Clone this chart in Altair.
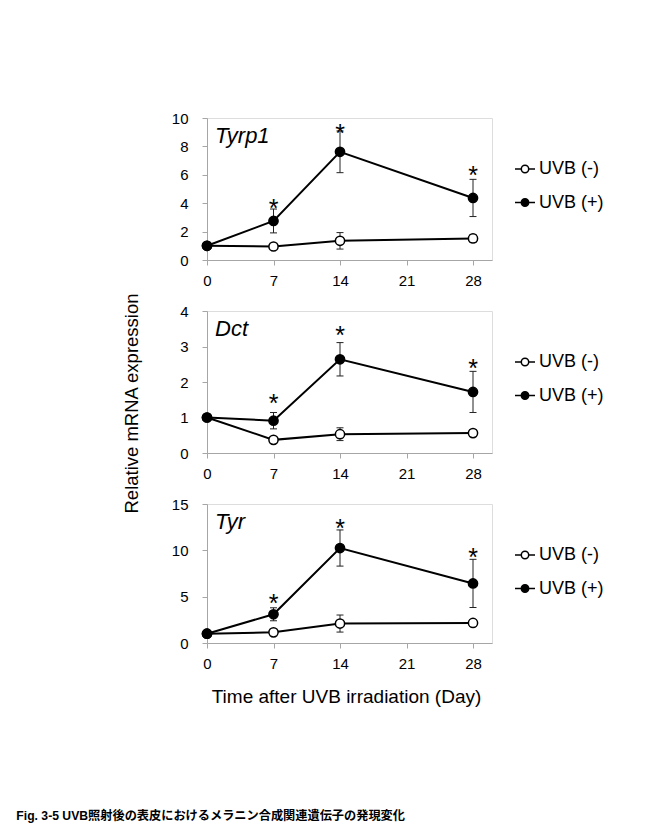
import altair as alt
import pandas as pd

# Sampling days after UVB irradiation
days = [0, 7, 14, 28]
groups = ["UVB (-)", "UVB (+)"]
star_days = [7, 14, 28]

# Tyrp1 relative expression (mean and SD)
tyrp1_minus = [1.0, 0.95, 1.35, 1.52]
tyrp1_minus_sd = [0.0, 0.08, 0.58, 0.28]
tyrp1_plus = [1.0, 2.75, 7.62, 4.37]
tyrp1_plus_sd = [0.0, 0.84, 1.47, 1.31]
tyrp1_star = [4.1, 9.4, 6.4]

# Dct relative expression (mean and SD)
dct_minus = [1.0, 0.37, 0.53, 0.56]
dct_minus_sd = [0.0, 0.04, 0.18, 0.04]
dct_plus = [1.0, 0.91, 2.64, 1.72]
dct_plus_sd = [0.0, 0.23, 0.47, 0.58]
dct_star = [1.57, 3.5, 2.55]

# Tyr relative expression (mean and SD)
tyr_minus = [1.0, 1.15, 2.1, 2.16]
tyr_minus_sd = [0.0, 0.15, 0.92, 0.3]
tyr_plus = [1.0, 3.1, 10.25, 6.43]
tyr_plus_sd = [0.0, 0.7, 1.95, 2.6]
tyr_star = [5.0, 13.1, 9.9]

x_ticks = [0, 7, 14, 21, 28]
caption = "Fig. 3-5 UVB照射後の表皮におけるメラニン合成関連遺伝子の発現変化"

FONT = "Liberation Sans"
GREY = "#a6a6a6"
PW = 285  # plot width

# Legend glyph: short line with a circle in the middle
LEGEND_GLYPH = ("M-1,0H-0.37M0.37,0H1"
                "M0.37,0A0.37,0.37,0,1,1,-0.37,0A0.37,0.37,0,1,1,0.37,0Z")

AXIS_STYLE = dict(labelFont=FONT, labelFontSize=15, labelColor="black",
                  domainColor=GREY, tickColor=GREY, tickSize=5, grid=False,
                  labelFlush=False, labelOverlap=False)


def panel(gene, minus, minus_sd, plus, plus_sd, stars, ymax, ystep, height,
          y_title=False, x_title=False, with_caption=False):
    rows = []
    for grp, means, sds in [(groups[0], minus, minus_sd), (groups[1], plus, plus_sd)]:
        for d, m, s in zip(days, means, sds):
            rows.append({"day": d, "val": m, "lo": m - s, "hi": m + s, "sd": s, "group": grp})
    df = pd.DataFrame(rows)
    err = df[df["sd"] > 0]
    caps = pd.concat([
        err[["day", "lo", "group"]].rename(columns={"lo": "cap"}),
        err[["day", "hi", "group"]].rename(columns={"hi": "cap"}),
    ])
    star_df = pd.DataFrame({"day": star_days, "star": stars})

    if x_title:
        x_axis = alt.Axis(values=x_ticks, title="Time after UVB irradiation (Day)",
                          labelPadding=8.5, titleFontSize=19,
                          titleFont=FONT, titleFontWeight="normal", titleColor="black",
                          titleBaseline="alphabetic", titleY=59, titleX=139, **AXIS_STYLE)
    else:
        x_axis = alt.Axis(values=x_ticks, title=None, labelPadding=8.5, **AXIS_STYLE)
    xs = alt.Scale(domain=[0, 30], nice=False)
    ys = alt.Scale(domain=[0, ymax], nice=False, zero=True)
    y_vals = list(range(0, ymax + 1, ystep))
    if y_title:
        y_axis = alt.Axis(values=y_vals, title="Relative mRNA expression",
                          labelPadding=14, titleFontSize=18.5,
                          titleFont=FONT, titleFontWeight="normal", titleColor="black",
                          titleAngle=-90, titleAlign="center", titleBaseline="middle",
                          titleX=-76, titleY=92, **AXIS_STYLE)
    else:
        y_axis = alt.Axis(values=y_vals, title=None, labelPadding=14, **AXIS_STYLE)

    X = alt.X("day:Q", scale=xs, axis=x_axis)

    lines = alt.Chart(df).mark_line(color="black", strokeWidth=2).encode(
        x=X, y=alt.Y("val:Q", scale=ys, axis=y_axis), detail="group:N")

    bars = alt.Chart(err).mark_rule(color="#222222", strokeWidth=1).encode(
        x=X, y=alt.Y("lo:Q", scale=ys, axis=y_axis), y2="hi:Q")

    cap_ticks = alt.Chart(caps).mark_tick(
        orient="horizontal", color="#222222", size=7, thickness=1, opacity=1).encode(
        x=X, y=alt.Y("cap:Q", scale=ys, axis=y_axis))

    points = alt.Chart(df).mark_point(
        shape="circle", filled=True, size=85, stroke="black", strokeWidth=1.5,
        opacity=1, fillOpacity=1, strokeOpacity=1).encode(
        x=X, y=alt.Y("val:Q", scale=ys, axis=y_axis),
        fill=alt.Fill("group:N", scale=alt.Scale(domain=groups, range=["white", "black"]),
                      legend=alt.Legend(
                          title=None, orient="none", legendX=307, legendY=40,
                          symbolType=LEGEND_GLYPH, symbolSize=400,
                          symbolStrokeColor="black", symbolStrokeWidth=1.5,
                          labelFont=FONT, labelFontSize=18, labelColor="black",
                          labelOffset=3, rowPadding=13.5)))

    star_marks = alt.Chart(star_df).mark_text(
        text="*", font=FONT, fontSize=25, color="black", baseline="middle", dy=7).encode(
        x=X, y=alt.Y("star:Q", scale=ys, axis=y_axis))

    label = alt.Chart(pd.DataFrame({"gene": [gene]})).mark_text(
        font=FONT, fontStyle="italic", fontSize=22, color="black",
        align="left", baseline="alphabetic").encode(
        text="gene:N", x=alt.value(8), y=alt.value(25))

    layers = [lines, bars, cap_ticks, points, star_marks, label]
    if with_caption:
        cap_text = alt.Chart(pd.DataFrame({"cap": [caption]})).mark_text(
            font="Liberation Sans, Noto Sans CJK JP", fontWeight="bold", fontSize=12.2,
            color="black", align="left", baseline="alphabetic").encode(
            text="cap:N", x=alt.value(15 - 205.7), y=alt.value(821 - 505))
        layers.append(cap_text)

    return alt.layer(*layers).properties(width=PW, height=height)


p1 = panel("Tyrp1", tyrp1_minus, tyrp1_minus_sd, tyrp1_plus, tyrp1_plus_sd,
           tyrp1_star, 10, 2, 142)
p2 = panel("Dct", dct_minus, dct_minus_sd, dct_plus, dct_plus_sd,
           dct_star, 4, 1, 142, y_title=True)
p3 = panel("Tyr", tyr_minus, tyr_minus_sd, tyr_plus, tyr_plus_sd,
           tyr_star, 15, 5, 139, x_title=True, with_caption=True)

chart = alt.vconcat(p1, p2, p3, spacing=51, bounds="flush").resolve_scale(
    fill="independent", x="independent", y="independent"
).resolve_legend(fill="independent").properties(
    padding={"left": 15, "top": 110, "right": 5, "bottom": 2}
).configure_view(
    stroke=GREY, strokeWidth=1
).configure_axis(
    domainColor=GREY, tickColor=GREY, labelColor="black", labelFont=FONT,
    labelFontSize=15, grid=False, domainWidth=1, tickWidth=1
).configure(background="white")

chart.save("out.html", embed_options={"renderer": "svg", "actions": False})
